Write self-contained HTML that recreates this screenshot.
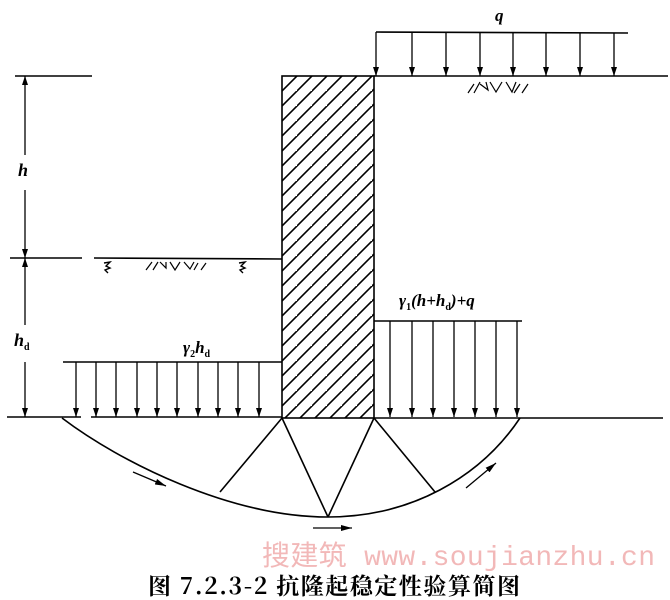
<!DOCTYPE html>
<html><head><meta charset="utf-8"><style>body{margin:0;background:#fff}svg{display:block}</style></head><body>
<svg width="670" height="600" viewBox="0 0 670 600" xmlns="http://www.w3.org/2000/svg">
<defs>
<pattern id="h" patternUnits="userSpaceOnUse" width="15" height="15" patternTransform="translate(282,76)">
<path d="M-2 17 L17 -2 M-17 17 L2 -2 M13 32 L32 13" stroke="#000" stroke-width="1.6"/>
</pattern>
<marker id="a" markerWidth="9" markerHeight="6" refX="9" refY="3" orient="auto-start-reverse" markerUnits="userSpaceOnUse"><path d="M0 0 L9 3 L0 6 Z" fill="#000"/></marker>
<marker id="b" markerWidth="11" markerHeight="6" refX="11" refY="3" orient="auto" markerUnits="userSpaceOnUse"><path d="M0 0 L11 3 L0 6 Z" fill="#000"/></marker>
</defs>
<g stroke="#000" stroke-width="1.6" fill="none">
<rect x="282" y="76" width="92" height="342" fill="url(#h)"/>
<line x1="374" y1="76" x2="668" y2="76"/>
<line x1="376" y1="32" x2="628" y2="33"/>
<g stroke-width="1.3" marker-end="url(#a)">
<line x1="376" y1="32" x2="376" y2="76"/><line x1="412" y1="33" x2="412" y2="76"/><line x1="446" y1="33" x2="446" y2="76"/><line x1="480" y1="33" x2="480" y2="76"/><line x1="513" y1="33" x2="513" y2="76"/><line x1="546" y1="33" x2="546" y2="76"/><line x1="580" y1="33" x2="580" y2="76"/><line x1="614" y1="33" x2="614" y2="76"/>
</g>
<path d="M468 93 L474 84 M474 93 L480 82 M480 84 L488 90 L486 82 M490 82 L496 92 L502 82 M506 82 L512 92 L516 82 M520 84 L514 93 M528 84 L522 93" stroke-width="1.2"/>
<line x1="15" y1="76" x2="92" y2="76"/>
<line x1="10" y1="258" x2="82" y2="258"/>
<g stroke-width="1.3">
<line x1="25" y1="76" x2="25" y2="155" marker-start="url(#a)"/>
<line x1="25" y1="190" x2="25" y2="258" marker-end="url(#a)"/>
<line x1="25" y1="258" x2="25" y2="325" marker-start="url(#a)"/>
<line x1="25" y1="362" x2="25" y2="417" marker-end="url(#a)"/>
</g>
<line x1="94" y1="258" x2="282" y2="259"/>
<path d="M104 263 L110 262 L106 266 L110 268 L105 270 L108 273 M239 263 L245 262 L241 266 L245 268 L240 270 L243 273" stroke-width="1.4"/>
<path d="M146 270 L152 262 M153 270 L158 262 M160 262 L166 268 L166 262 M170 262 L175 270 L180 262 M184 262 L190 269 L194 262 M198 263 L194 270 M206 263 L201 270" stroke-width="1.2"/>
<line x1="63" y1="362" x2="282" y2="362"/>
<g stroke-width="1.3" marker-end="url(#a)">
<line x1="76" y1="362" x2="76" y2="417"/><line x1="96" y1="362" x2="96" y2="417"/><line x1="116" y1="362" x2="116" y2="417"/><line x1="137" y1="362" x2="137" y2="417"/><line x1="157" y1="362" x2="157" y2="417"/><line x1="177" y1="362" x2="177" y2="417"/><line x1="198" y1="362" x2="198" y2="417"/><line x1="218" y1="362" x2="218" y2="417"/><line x1="238" y1="362" x2="238" y2="417"/><line x1="259" y1="362" x2="259" y2="417"/>
</g>
<line x1="374" y1="321" x2="522" y2="321"/>
<g stroke-width="1.3" marker-end="url(#a)">
<line x1="390" y1="321" x2="390" y2="417"/><line x1="412" y1="321" x2="412" y2="417"/><line x1="433" y1="321" x2="433" y2="417"/><line x1="454" y1="321" x2="454" y2="417"/><line x1="475" y1="321" x2="475" y2="417"/><line x1="496" y1="321" x2="496" y2="417"/><line x1="517" y1="321" x2="517" y2="417"/>
</g>
<line x1="7" y1="417" x2="81" y2="417"/>
<line x1="91" y1="417" x2="282" y2="417"/>
<line x1="374" y1="418" x2="663" y2="418"/>
<path d="M62 418 C120 462 230 517 328 517 C410 517 480 478 520 418"/>
<line x1="282" y1="418" x2="220" y2="492"/>
<line x1="282" y1="418" x2="328" y2="517"/>
<line x1="374" y1="418" x2="328" y2="517"/>
<line x1="374" y1="418" x2="435" y2="492"/>
<g stroke-width="1.3" marker-end="url(#b)">
<line x1="133" y1="472" x2="166" y2="486"/>
<line x1="313" y1="528" x2="352" y2="528"/>
<line x1="466" y1="488" x2="496" y2="463"/>
</g>
</g>
<g font-family="Liberation Serif, serif" font-style="italic" font-weight="bold" fill="#000">
<text x="495" y="21" font-size="17">q</text>
<text x="18" y="176" font-size="18">h</text>
<text x="14" y="346" font-size="18">h<tspan font-size="10" font-style="normal" dy="4">d</tspan></text>
<text x="183" y="353" font-size="17">γ<tspan font-size="10" font-style="normal" dy="4">2</tspan><tspan dy="-4">h</tspan><tspan font-size="10" font-style="normal" dy="4">d</tspan></text>
<text x="399" y="306" font-size="17">γ<tspan font-size="10" font-style="normal" dy="4">1</tspan><tspan dy="-4">(h+h</tspan><tspan font-size="10" font-style="normal" dy="4">d</tspan><tspan dy="-4">)+q</tspan></text>
</g>
<text x="262" y="565" font-family="Liberation Mono, 'Noto Sans CJK SC', monospace" font-size="28" textLength="393" fill="#f2b8b8">搜建筑 www.soujianzhu.cn</text>
<text x="148" y="594" font-family="'Noto Serif CJK SC','Noto Sans CJK SC',serif" font-size="23" font-weight="bold" textLength="372" fill="#000">图 7.2.3-2  抗隆起稳定性验算简图</text>
</svg>
</body></html>
